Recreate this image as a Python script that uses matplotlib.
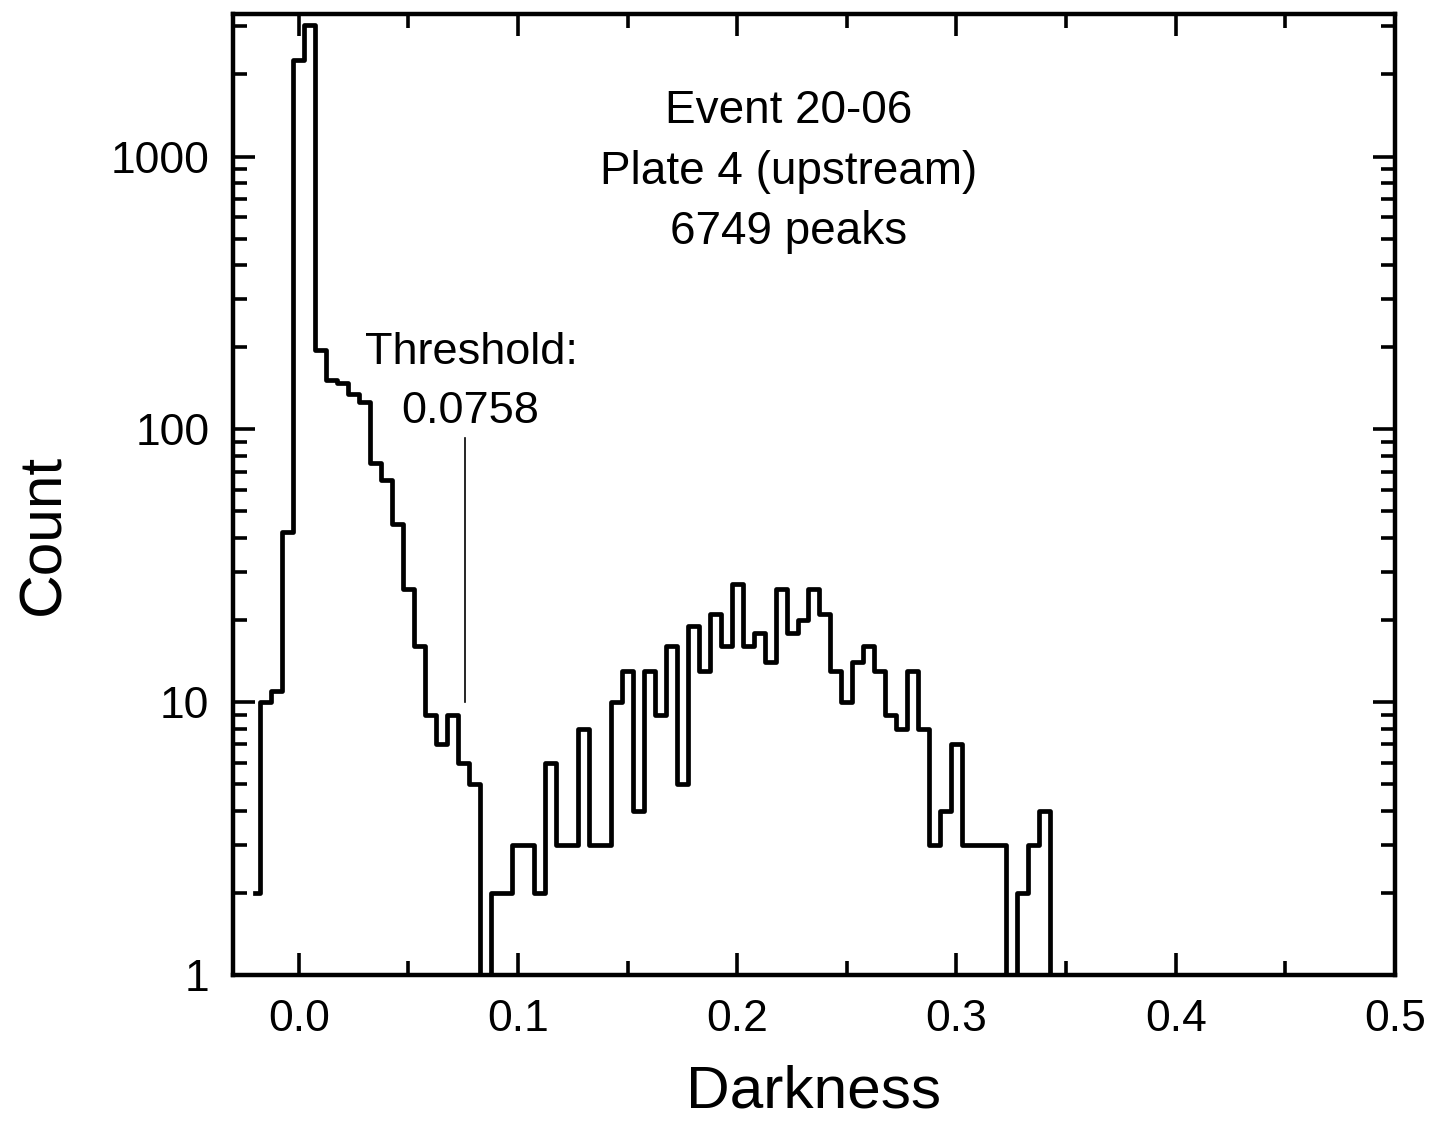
import numpy as np
import matplotlib.pyplot as plt
from matplotlib.ticker import LogLocator, MultipleLocator, FixedLocator, FixedFormatter

plt.rcParams['font.family'] = ['Liberation Sans', 'DejaVu Sans']

# histogram of peak darkness, bins of width 0.005 starting at -0.02 (bin centres)
first_bin = -0.02
bin_width = 0.005
counts = [2, 10, 11, 42, 2260, 3040, 195, 152, 148, 135,
          126, 75, 65, 45, 26, 16, 9, 7, 9, 6,
          5, 0, 2, 2, 3, 3, 2, 6, 3, 3,
          8, 3, 3, 10, 13, 4, 13, 9, 16, 5,
          19, 13, 21, 16, 27, 16, 18, 14, 26, 18,
          20, 26, 21, 13, 10, 14, 16, 13, 9, 8,
          13, 8, 3, 4, 7, 3, 3, 3, 3, 0,
          2, 3, 4, 0]
centers = first_bin + bin_width * np.arange(len(counts))

threshold = 0.0758
threshold_span = [10, 93]   # counts covered by the marker line

info_lines = ['Event 20-06', 'Plate 4 (upstream)', '6749 peaks']

fig = plt.figure(figsize=(14.31, 11.30), dpi=100)
ax = fig.add_axes([0.1628, 0.1372, 0.812, 0.8504])

# step outline, drawn from the first bin centre like the original
ax.step(centers, counts, where='mid', color='black', lw=3.4)
ax.plot([threshold, threshold], threshold_span, color='black', lw=1.2)

ax.set_yscale('log', nonpositive='clip')
ax.set_xlim(-0.03, 0.5)
ax.set_ylim(1, 3330)

# ticks: inside, on all four sides
ax.xaxis.set_major_locator(MultipleLocator(0.1))
ax.xaxis.set_minor_locator(MultipleLocator(0.05))
ax.xaxis.set_major_formatter(plt.FuncFormatter(lambda v, p: '%.1f' % v))
ax.yaxis.set_major_locator(FixedLocator([1, 10, 100, 1000]))
ax.yaxis.set_major_formatter(FixedFormatter(['1', '10', '100', '1000']))
ax.yaxis.set_minor_locator(LogLocator(base=10, subs=np.arange(2, 10)))
ax.yaxis.set_minor_formatter(plt.NullFormatter())
ax.tick_params(which='both', direction='in', top=True, right=True, width=2.6)
ax.tick_params(which='major', length=16, labelsize=32, pad=17)
ax.tick_params(which='minor', length=10)
for s in ax.spines.values():
    s.set_linewidth(3.2)

ax.set_xlabel('Darkness', fontsize=43.5)
ax.set_ylabel('Count', fontsize=43.5)
ax.xaxis.set_label_coords(0.5, -0.093)
ax.yaxis.set_label_coords(-0.139, 0.458)

# event info
for i, line in enumerate(info_lines):
    ax.text(0.4785, 0.899 - i * 0.063, line, transform=ax.transAxes,
            fontsize=33, ha='center', va='center')

ax.text(0.2048, 0.648, 'Threshold:', transform=ax.transAxes,
        fontsize=32.5, ha='center', va='center')
ax.text(0.204, 0.586, '%.4f' % threshold, transform=ax.transAxes,
        fontsize=32.5, ha='center', va='center')

plt.savefig('out.png', dpi=100)
